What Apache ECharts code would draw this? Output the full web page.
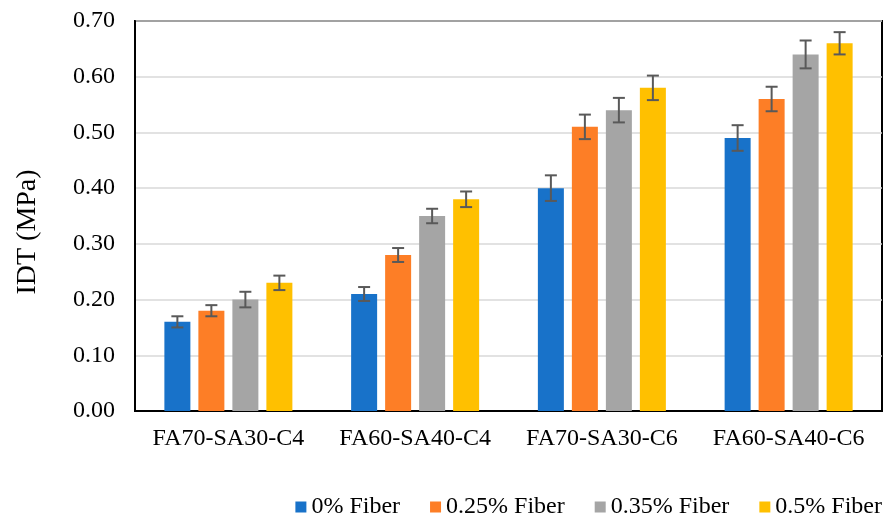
<!DOCTYPE html>
<html>
<head>
<meta charset="utf-8">
<script src="https://cdn.jsdelivr.net/npm/echarts@6/dist/echarts.min.js"></script>
<style>html,body{margin:0;padding:0;background:#fff}#c{width:891px;height:517px}</style>
</head>
<body>
<div id="c"></div>
<script>
const categories = ['FA70-SA30-C4', 'FA60-SA40-C4', 'FA70-SA30-C6', 'FA60-SA40-C6'];
const seriesNames = ['0% Fiber', '0.25% Fiber', '0.35% Fiber', '0.5% Fiber'];
const fiber0 = [0.16, 0.21, 0.40, 0.49];
const fiber025 = [0.18, 0.28, 0.51, 0.56];
const fiber035 = [0.20, 0.35, 0.54, 0.64];
const fiber05 = [0.23, 0.38, 0.58, 0.66];
const err0 = [0.010, 0.0125, 0.023, 0.023];
const err025 = [0.010, 0.0125, 0.022, 0.022];
const err035 = [0.014, 0.013, 0.022, 0.025];
const err05 = [0.013, 0.014, 0.022, 0.020];
const yTicks = [0, 0.1, 0.2, 0.3, 0.4, 0.5, 0.6, 0.7];

const values = [fiber0, fiber025, fiber035, fiber05];
const errors = [err0, err025, err035, err05];
const colors = ['#1872C9', '#FD7E26', '#A5A5A5', '#FFC000'];
const BAR_W = 26, BAR_GAP = 8;
const FONT = '"Liberation Serif", "Times New Roman", serif';

const chart = echarts.init(document.getElementById('c'), null, {renderer: 'canvas'});

const series = [];
values.forEach((vals, i) => {
  series.push({
    name: seriesNames[i],
    type: 'bar',
    data: vals,
    barWidth: BAR_W,
    barGap: (BAR_GAP / BAR_W * 100) + '%',
    itemStyle: {color: colors[i]},
    z: 2
  });
});
values.forEach((vals, i) => {
  series.push({
    type: 'custom',
    name: 'err' + i,
    z: 5,
    silent: true,
    data: vals.map((v, k) => [k, v - errors[i][k], v + errors[i][k]]),
    renderItem: function (params, api) {
      const k = api.value(0);
      const lo = api.coord([k, api.value(1)]);
      const hi = api.coord([k, api.value(2)]);
      const off = (i - 1.5) * (BAR_W + BAR_GAP);
      const x = lo[0] + off;
      const cw = 6;
      const style = {stroke: '#595959', lineWidth: 2};
      return {
        type: 'group',
        children: [
          {type: 'line', shape: {x1: x, y1: lo[1], x2: x, y2: hi[1]}, style: style},
          {type: 'line', shape: {x1: x - cw, y1: lo[1], x2: x + cw, y2: lo[1]}, style: style},
          {type: 'line', shape: {x1: x - cw, y1: hi[1], x2: x + cw, y2: hi[1]}, style: style}
        ]
      };
    }
  });
});

chart.setOption({
  animation: false,
  backgroundColor: '#fff',
  textStyle: {fontFamily: FONT, color: '#000'},
  grid: {left: 135, right: 9, top: 21, bottom: 106, show: true, borderColor: '#000', borderWidth: 2, containLabel: false},
  legend: {
    data: seriesNames,
    top: 490,
    right: 4,
    itemWidth: 11,
    itemHeight: 11,
    itemGap: 30,
    icon: 'rect',
    textStyle: {fontFamily: FONT, fontSize: 24, color: '#000'}
  },
  xAxis: {
    type: 'category',
    data: categories,
    axisLine: {lineStyle: {color: '#000', width: 2}},
    axisTick: {show: false},
    axisLabel: {fontFamily: FONT, fontSize: 24, color: '#000', margin: 16, interval: 0}
  },
  yAxis: {
    type: 'value',
    min: yTicks[0],
    max: yTicks[yTicks.length - 1],
    interval: 0.1,
    name: 'IDT (MPa)',
    nameLocation: 'middle',
    nameGap: 93,
    nameTextStyle: {fontFamily: FONT, fontSize: 28, color: '#000', padding: [0, 32, 0, 0]},
    axisLine: {show: true, lineStyle: {color: '#000', width: 2}},
    axisTick: {show: false},
    splitLine: {lineStyle: {color: '#D9D9D9', width: 1.5}},
    axisLabel: {fontFamily: FONT, fontSize: 24, color: '#000', margin: 20, formatter: v => v.toFixed(2)}
  },
  series: series
});
</script>
</body>
</html>
